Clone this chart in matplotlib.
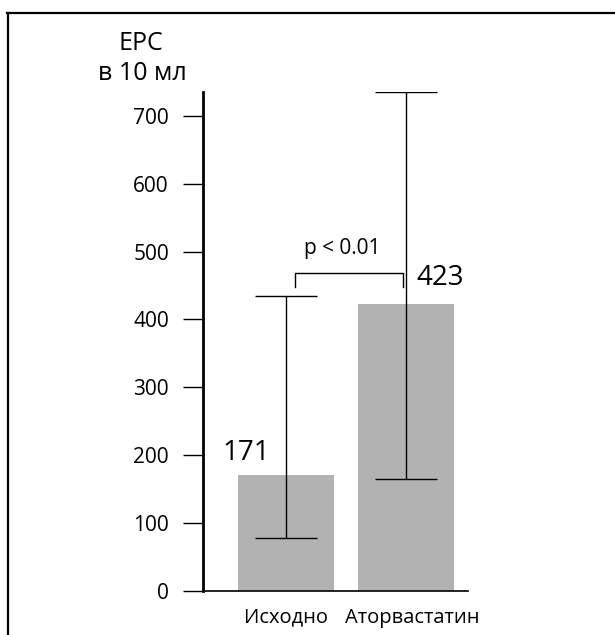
"""
EPC bar chart: baseline vs atorvastatin
"""

import matplotlib
matplotlib.use("Agg")
import matplotlib.pyplot as plt
import matplotlib.transforms as mtransforms
from matplotlib.lines import Line2D

######################## Data ########################
groups = ["Исходно", "Аторвастатин"]
values = [171, 423]
err_low = [78, 165]
err_high = [435, 735]
value_labels = ["171", "423"]
yticks = [0, 100, 200, 300, 400, 500, 600, 700]
p_text = "p < 0.01"
ylabel_lines = ["EPC", "в 10 мл"]

plt.rcParams["font.family"] = ["Open Sans", "DejaVu Sans"]

W, H = 615, 635
fig = plt.figure(figsize=(W / 100, H / 100), dpi=100)

# page frame (top and left edges only)
fig.add_artist(Line2D([7 / W, 1.0], [1 - 13 / H, 1 - 13 / H], transform=fig.transFigure,
                      color="black", lw=1.6))
fig.add_artist(Line2D([8 / W, 8 / W], [0, 1 - 13 / H], transform=fig.transFigure,
                      color="black", lw=1.6))

ax = fig.add_axes([203 / W, 44 / H, 265 / W, 499 / H])

x = list(range(len(groups)))
yerr = [[v - lo for v, lo in zip(values, err_low)],
        [hi - v for v, hi in zip(values, err_high)]]

ax.bar(x, values, width=0.8, color="#b2b2b2", zorder=1)
ax.errorbar(x, values, yerr=yerr, fmt="none", ecolor="black", elinewidth=1.0,
            capsize=22.5, capthick=1.0, zorder=2)

ax.set_xlim(-0.69, 1.52)
ax.set_ylim(0, 735)

ax.set_yticks(yticks)
ax.set_yticklabels([str(t) for t in yticks], fontsize=15)
ax.tick_params(axis="y", direction="out", length=14.5, width=1.0, pad=10)
ax.set_xticks(x)
ax.set_xticklabels(groups, fontsize=14.5)
ax.tick_params(axis="x", length=0, pad=12)

# second category label sits a bit to the right in the original
lbl = ax.get_xticklabels()[1]
lbl.set_transform(lbl.get_transform() + mtransforms.ScaledTranslation(7 / 100, 0, fig.dpi_scale_trans))

for side in ["top", "right"]:
    ax.spines[side].set_visible(False)
ax.spines["left"].set_linewidth(2.0)
ax.spines["bottom"].set_linewidth(1.2)

# value labels over bars
ax.text(-0.33, 203, value_labels[0], ha="center", va="center", fontsize=20)
ax.text(1.29, 461, value_labels[1], ha="center", va="center", fontsize=20)

# significance bracket
ax.plot([0.075, 0.075, 0.975, 0.975], [448, 468, 468, 448], color="black", lw=1.0)
ax.text(0.47, 505, p_text, ha="center", va="center", fontsize=15)

# y axis title
fig.text(141 / W, 1 - 43 / H, ylabel_lines[0], ha="center", va="center", fontsize=18)
fig.text(142 / W, 1 - 73 / H, ylabel_lines[1], ha="center", va="center", fontsize=18)

fig.savefig("out.png", dpi=100)
